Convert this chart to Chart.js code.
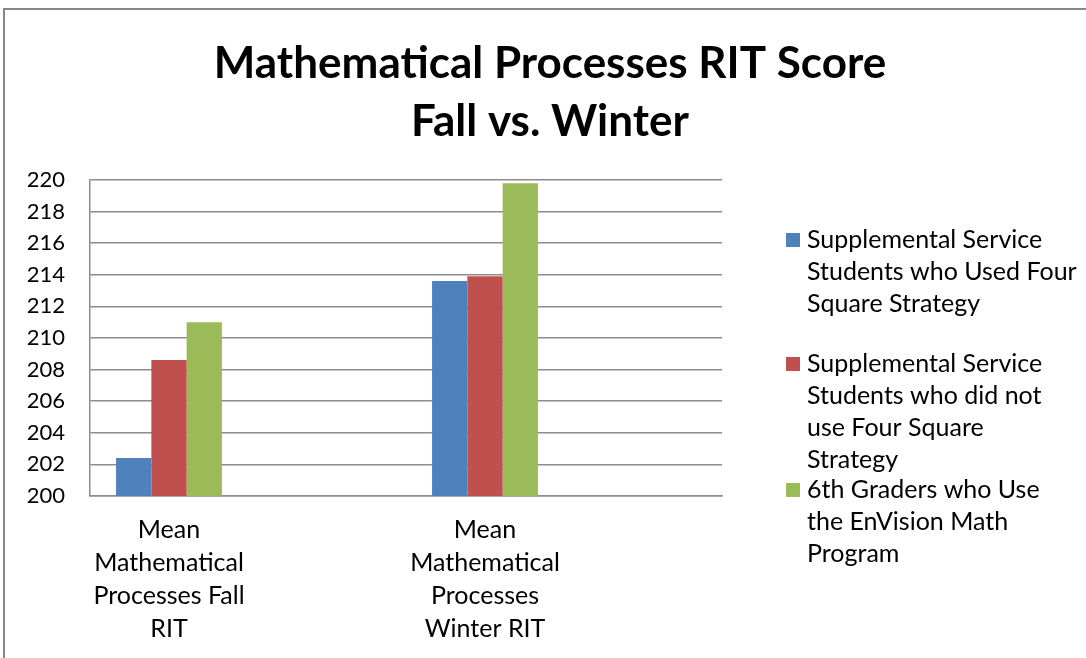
<!DOCTYPE html>
<html>
<head>
<meta charset="utf-8">
<script src="https://cdn.jsdelivr.net/npm/chart.js@4"></script>
<style>
  body { margin: 0; background: #fff; }
</style>
</head>
<body>
<canvas id="myChart" width="1086" height="658"></canvas>
<script>
// categories (two real ones, empty slots between them like the original sheet)
const categories = [
    ['Mean', 'Mathematical', 'Processes Fall', 'RIT'],
    ['Mean', 'Mathematical', 'Processes', 'Winter RIT']
];
const seriesNames = [
    ['Supplemental Service', 'Students who Used Four', 'Square Strategy'],
    ['Supplemental Service', 'Students who did not', 'use Four Square', 'Strategy'],
    ['6th Graders who Use', 'the EnVision Math', 'Program']
];
const usedFourSquare = [202.4, 213.6];
const noFourSquare = [208.6, 213.9];
const enVision = [211.0, 219.8];
const colors = ['#4F81BD', '#C0504D', '#9BBB59'];

// put an empty category after each real one
const spread = arr => arr.flatMap(v => [v, null]);
const labels = categories.flatMap(c => [c, '']);

const ctx = document.getElementById('myChart').getContext('2d');
Chart.defaults.font.family = 'Lato';
Chart.defaults.color = '#000';

const frame = {
    id: 'frame',
    beforeDraw(chart) {
        const c = chart.ctx;
        c.save();
        c.fillStyle = '#fff';
        c.fillRect(0, 0, chart.width, chart.height);
        c.strokeStyle = '#868686';
        c.lineWidth = 2;
        c.strokeRect(4, 9, 1300, 900);
        c.restore();
    }
};

// legend with wrapped lines, drawn to the right of the plot
const sideLegend = {
    id: 'sideLegend',
    afterDraw(chart, args, opts) {
        const c = chart.ctx;
        const area = chart.chartArea;
        const x = area.right + 64;
        c.save();
        c.font = opts.fontSize + 'px Lato';
        c.textBaseline = 'middle';
        chart.data.datasets.forEach((ds, i) => {
            let y = area.top + opts.itemTops[i];
            c.fillStyle = ds.backgroundColor;
            c.fillRect(x, y - 7, 14, 14);
            c.fillStyle = '#000';
            ds.label.forEach((line, j) => {
                c.fillText(line, x + 21, y + j * opts.lineHeight);
            });
        });
        c.restore();
    }
};

const myChart = new Chart(ctx, {
    type: 'bar',
    data: {
        labels: labels,
        datasets: [
            { label: seriesNames[0], data: spread(usedFourSquare), backgroundColor: colors[0] },
            { label: seriesNames[1], data: spread(noFourSquare), backgroundColor: colors[1] },
            { label: seriesNames[2], data: spread(enVision), backgroundColor: colors[2] }
        ]
    },
    options: {
        responsive: false,
        animation: false,
        layout: { padding: { left: 14, right: 0, top: 0, bottom: 16 } },
        datasets: {
            bar: { barPercentage: 1.0, categoryPercentage: 0.67 }
        },
        plugins: {
            legend: { display: false },
            tooltip: { enabled: false },
            title: {
                display: true,
                text: ['Mathematical Processes RIT Score', 'Fall vs. Winter'],
                font: { size: 44, weight: 'bold', lineHeight: 1.318 },
                color: '#000',
                padding: { top: 35, bottom: 29 }
            },
            sideLegend: { itemTops: [60, 184, 310], lineHeight: 32, fontSize: 25 }
        },
        scales: {
            x: {
                grid: { display: false, drawTicks: false },
                border: { display: true, color: '#8c8c8c', width: 1.5 },
                ticks: {
                    font: { size: 25, lineHeight: 1.31 },
                    padding: 18,
                    maxRotation: 0,
                    autoSkip: false
                },
                afterFit(scale) { scale.height = 146; }
            },
            y: {
                min: 200,
                max: 220,
                grid: { color: '#8c8c8c', lineWidth: 1.5, drawTicks: false },
                border: { display: true, color: '#8c8c8c', width: 1.5 },
                ticks: { stepSize: 2, font: { size: 22 }, padding: 25 },
                afterFit(scale) { scale.width = 76; }
            },
            space: {
                position: 'right',
                display: true,
                grid: { display: false },
                border: { display: false },
                ticks: { display: false },
                afterFit(scale) { scale.width = 364; }
            }
        }
    },
    plugins: [frame, sideLegend]
});
</script>
</body>
</html>
